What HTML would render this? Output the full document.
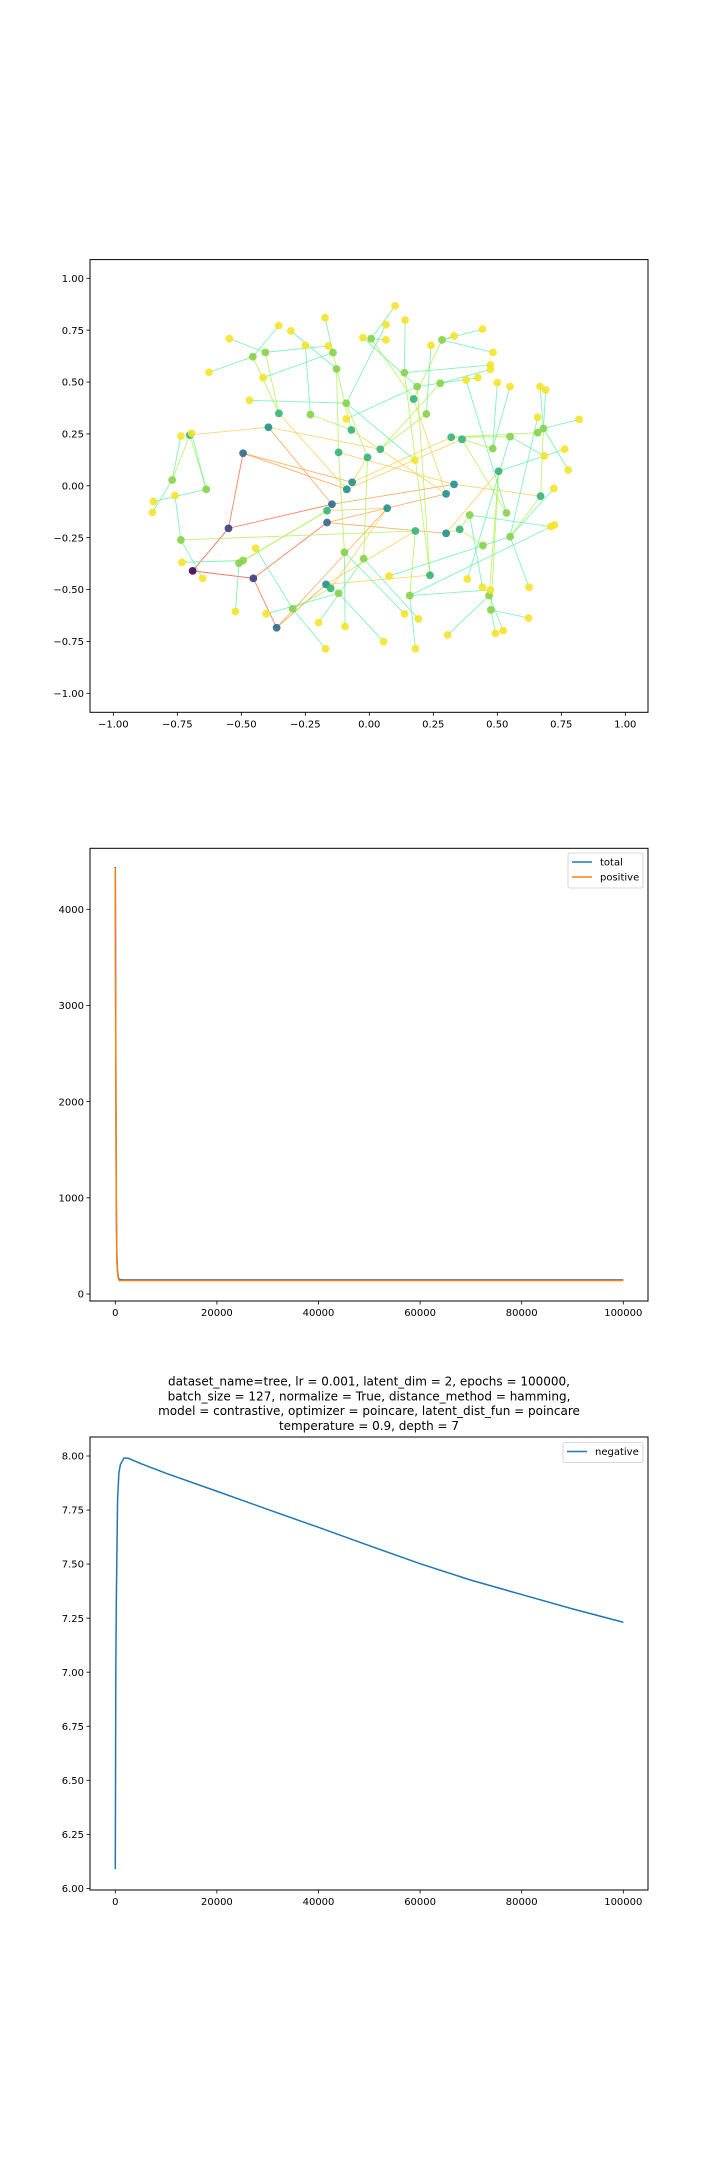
<!DOCTYPE html>
<html><head><meta charset="utf-8"><style>
html,body{margin:0;padding:0;background:#fff;}
svg{display:block;font-family:"DejaVu Sans","Liberation Sans",sans-serif;}
</style></head><body>
<svg id="fig" width="720" height="2160" viewBox="0 0 720 2160" xmlns="http://www.w3.org/2000/svg"></svg>
<script>
// ---------- Chart 1: tree embedding ----------
const nodeX = [-0.69,-0.55,-0.453,-0.493,-0.146,-0.362,-0.165,-0.067,-0.088,-0.394,0.331,0.07,0.30,0.30,-0.169,
 -0.007,0.32,-0.353,0.362,-0.701,0.043,-0.12,0.669,-0.165,-0.151,0.353,0.505,-0.07,0.173,0.18,0.237,
 -0.022,-0.09,0.55,0.658,-0.406,-0.455,0.536,0.482,-0.77,-0.637,0.223,0.277,-0.097,-0.128,0.55,0.68,-0.493,-0.509,-0.12,-0.299,0.392,0.444,0.475,0.468,-0.23,-0.142,0.007,0.284,0.158,-0.736,0.137,0.187,
 0.101,0.14,-0.173,0.065,-0.354,-0.306,-0.547,0.442,0.331,-0.025,0.065,-0.16,-0.25,0.241,0.483,0.473,0.473,-0.626,-0.415,0.378,0.424,0.5,0.55,0.667,0.689,-0.468,-0.09,0.658,0.82,-0.736,-0.694,0.763,0.683,0.178,0.777,-0.843,-0.847,-0.759,0.721,0.709,0.723,-0.444,-0.732,-0.651,0.077,0.383,0.442,0.473,0.624,-0.523,-0.403,0.138,0.192,0.622,-0.198,-0.095,0.306,0.493,0.523,0.056,-0.171,0.18];
const nodeY = [-0.41,-0.205,-0.446,0.157,-0.089,-0.684,-0.177,0.017,-0.017,0.282,0.007,-0.108,-0.229,-0.039,-0.475,
 0.137,0.234,0.349,0.224,0.245,0.176,0.161,-0.05,-0.12,-0.494,-0.21,0.07,0.269,0.418,-0.218,-0.431,
 -0.351,0.398,0.237,0.256,0.643,0.622,-0.131,0.179,0.028,-0.017,0.346,0.494,-0.32,0.563,-0.245,0.276,-0.36,-0.373,-0.518,-0.593,-0.141,-0.288,-0.598,-0.529,0.343,0.642,0.709,0.703,-0.529,-0.261,0.545,0.478,
 0.867,0.799,0.81,0.777,0.772,0.746,0.709,0.755,0.722,0.714,0.703,0.674,0.677,0.677,0.643,0.582,0.561,0.547,0.521,0.51,0.521,0.497,0.478,0.478,0.462,0.412,0.322,0.33,0.32,0.24,0.253,0.176,0.144,0.124,0.076,-0.076,-0.128,-0.047,-0.013,-0.197,-0.189,-0.301,-0.369,-0.446,-0.435,-0.449,-0.489,-0.502,-0.489,-0.606,-0.617,-0.617,-0.642,-0.637,-0.659,-0.678,-0.719,-0.711,-0.698,-0.751,-0.786,-0.785];
const nodeDepth = [0,1,1,2,2,2,2,3,3,3,3,3,3,3,3,
 4,4,4,4,4,4,4,4,4,4,4,4,4,4,4,4,
 5,5,5,5,5,5,5,5,5,5,5,5,5,5,5,5,5,5,5,5,5,5,5,5,5,5,5,5,5,5,5,5,
 6,6,6,6,6,6,6,6,6,6,6,6,6,6,6,6,6,6,6,6,6,6,6,6,6,6,6,6,6,6,6,6,6,6,6,6,6,6,6,6,6,6,6,6,6,6,6,6,6,6,6,6,6,6,6,6,6,6,6,6,6,6];
const nodeParent = [-1,0,0,1,1,2,2,3,3,4,4,5,6,6,5,
 7,7,8,8,9,9,10,10,11,11,12,12,13,13,14,14,
 15,15,16,16,17,17,18,18,19,19,20,20,21,21,22,22,23,23,24,24,25,25,26,26,27,27,28,28,29,29,30,30,
 57,61,56,32,36,44,35,58,58,62,57,35,55,41,58,61,42,36,56,37,62,38,38,46,46,32,62,45,46,39,40,26,33,32,46,40,39,60,45,51,59,50,47,60,45,33,51,59,45,48,49,43,31,53,31,43,54,53,54,49,50,59];
const depthColors = ["#440154","#3b3c85","#2e6a8e","#21908d","#34b47a","#86d24a","#f5e32a"];
const edgeColors = ["#ff0000","#ff3c1e","#ff5a28","#ff9a3c","#ffc840","#a8f040","#58f0a0"];

// ---------- Chart 2: total / positive ----------
const lossX = [0,100,200,300,400,600,800,1500,10000,50000,100000];
const totalY = [4440,2400,900,420,260,175,152,147,147,147,147];
const positiveY = [4430,2380,880,400,240,160,140,140,140,140,140];

// ---------- Chart 3: negative ----------
const negX = [0,100,200,450,700,1000,1700,2500,5000,10000,20000,30000,40000,50000,60000,70000,80000,90000,100000];
const negY = [6.09,7.0,7.33,7.8,7.92,7.96,7.99,7.99,7.965,7.92,7.837,7.753,7.67,7.585,7.502,7.426,7.359,7.293,7.231];

const yTicks1 = [-1.00,-0.75,-0.50,-0.25,0.00,0.25,0.50,0.75,1.00];
const xTicks1 = [-1.00,-0.75,-0.50,-0.25,0.00,0.25,0.50,0.75,1.00];
const xTicksLoss = [0,20000,40000,60000,80000,100000];
const yTicks2 = [0,1000,2000,3000,4000];
const yTicks3 = [6.00,6.25,6.50,6.75,7.00,7.25,7.50,7.75,8.00];

const NS="http://www.w3.org/2000/svg";
const fig=document.getElementById('fig');
function mk(tag,attrs,parent){const e=document.createElementNS(NS,tag);for(const k in attrs)e.setAttribute(k,attrs[k]);(parent||fig).appendChild(e);return e;}
function scale(d0,d1,p0,p1){return v=>p0+(v-d0)/(d1-d0)*(p1-p0);}
function fmt(v,dec){const s=Math.abs(v).toFixed(dec);return (v<0?"\u2212":"")+s;}

function axes(g,box,sx,sy,xt,yt,xdec,ydec,name){
  const f=mk('rect',{x:box.l,y:box.t,width:box.r-box.l,height:box.b-box.t,fill:'none',stroke:'#000','stroke-width':1},g);
  
  
  xt.forEach(v=>{const x=sx(v);
    const t=mk('line',{x1:x,x2:x,y1:box.b,y2:box.b+3.5,stroke:'#000','stroke-width':0.8},g);
    
    
    const l=mk('text',{x:x,y:box.b+15,'font-size':10,'text-anchor':'middle',fill:'#000'},g);
    l.textContent=fmt(v,xdec);
    
    });
  yt.forEach(v=>{const y=sy(v);
    const t=mk('line',{x1:box.l-3.5,x2:box.l,y1:y,y2:y,stroke:'#000','stroke-width':0.8},g);
    
    
    const l=mk('text',{x:box.l-6,y:y+3.6,'font-size':10,'text-anchor':'end',fill:'#000'},g);
    l.textContent=fmt(v,ydec);
    
    });
}

// Chart 1
(function(){
  const box={l:90,r:648,t:259.6,b:712.3};
  const sx=scale(-1,1,113.3,625.3), sy=scale(-1,1,693.3,278.3);
  const g=mk('g',{});
  
  
  for(let i=0;i<nodeX.length;i++){const p=nodeParent[i];if(p<0)continue;
    const e=mk('line',{x1:sx(nodeX[p]),y1:sy(nodeY[p]),x2:sx(nodeX[i]),y2:sy(nodeY[i]),stroke:edgeColors[nodeDepth[i]],'stroke-width':0.9,'stroke-opacity':0.75},g);
    
    }
  for(let i=0;i<nodeX.length;i++){
    const c=mk('circle',{cx:sx(nodeX[i]),cy:sy(nodeY[i]),r:3.9,fill:depthColors[nodeDepth[i]],'fill-opacity':0.9},g);
    
    }
  axes(g,box,sx,sy,xTicks1,yTicks1,2,2,'embedding');
})();

function legend(g,x,y,w,entries){
  const h=entries.length*15+5;
  const b=mk('rect',{x:x,y:y,width:w,height:h,rx:2,fill:'#fff','fill-opacity':0.8,stroke:'#ccc','stroke-width':0.8},g);
  
  
  entries.forEach((en,i)=>{const yy=y+9+i*15;
    const l=mk('line',{x1:x+4,x2:x+24,y1:yy,y2:yy,stroke:en[1],'stroke-width':1.6},g);
    
    
    const t=mk('text',{x:x+32,y:yy+3.5,'font-size':10,fill:'#000'},g);
    t.textContent=en[0];
    
    });
}
function path(g,xs,ys,sx,sy,color,name){
  let d='';xs.forEach((v,i)=>{d+=(i?'L':'M')+sx(v).toFixed(2)+','+sy(ys[i]).toFixed(2);});
  const p=mk('path',{d:d,fill:'none',stroke:color,'stroke-width':1.5},g);
  
  
}

// Chart 2
(function(){
  const box={l:90,r:648,t:848.3,b:1301};
  const sx=scale(0,100000,115.3,623.3), sy=scale(0,4000,1294,909.3);
  const g=mk('g',{});
  
  
  path(g,lossX,totalY,sx,sy,'#1f77b4','total-line');
  path(g,lossX,positiveY,sx,sy,'#ff7f0e','positive-line');
  axes(g,box,sx,sy,xTicksLoss,yTicks2,0,0,'loss');
  legend(g,568,853,75,[['total','#1f77b4'],['positive','#ff7f0e']]);
})();

// Chart 3
(function(){
  const box={l:90,r:648,t:1437,b:1890};
  const sx=scale(0,100000,115.3,623.3), sy=scale(6,8,1888.4,1456);
  const g=mk('g',{});
  
  
  const titles=["dataset_name=tree, lr = 0.001, latent_dim = 2, epochs = 100000,","batch_size = 127, normalize = True, distance_method = hamming,","model = contrastive, optimizer = poincare, latent_dist_fun = poincare","temperature = 0.9, depth = 7"];
  titles.forEach((s,i)=>{const t=mk('text',{x:369,y:1385.5+i*14.8,'font-size':12,'text-anchor':'middle',fill:'#000'},g);
    t.textContent=s;
    
    });
  path(g,negX,negY,sx,sy,'#1f77b4','negative-line');
  axes(g,box,sx,sy,xTicksLoss,yTicks3,0,2,'negative');
  legend(g,563,1442.5,80,[['negative','#1f77b4']]);
})();
</script>
</body></html>
